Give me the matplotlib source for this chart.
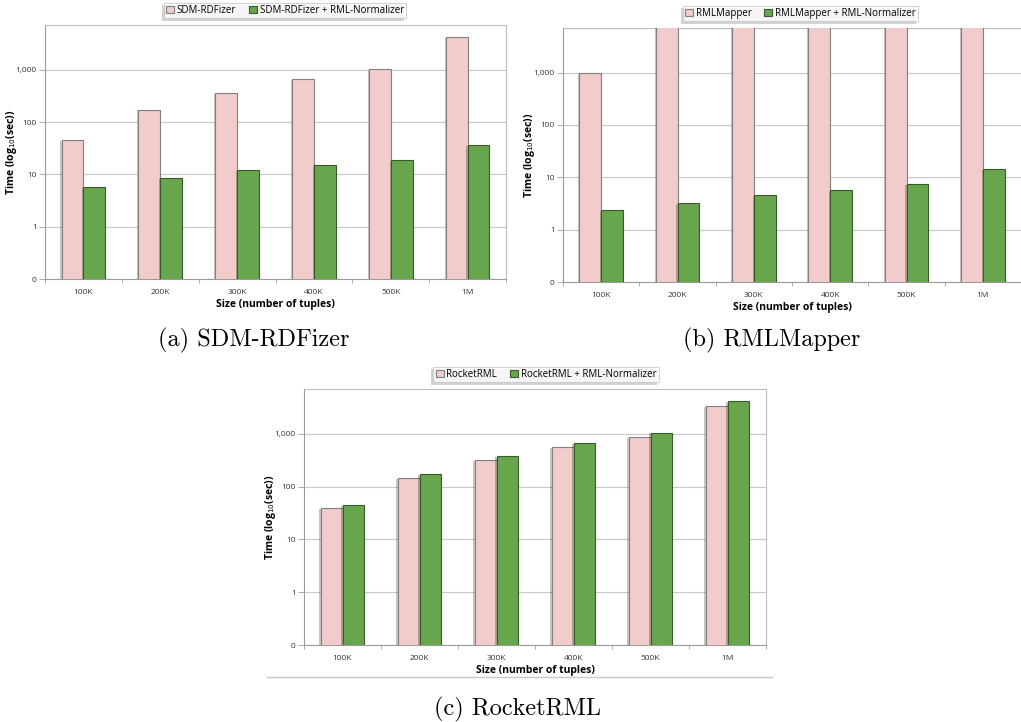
import matplotlib.pyplot as plt
import matplotlib.patheffects as pe
from matplotlib.lines import Line2D
from matplotlib.ticker import FixedLocator, NullFormatter

W, H = 1021, 722

sizes = ["100K", "200K", "300K", "400K", "500K", "1M"]

# (a) SDM-RDFizer
sdm = [46, 175, 358, 664, 1030, 4220]
sdm_norm = [5.7, 8.5, 12.1, 15.5, 18.8, 36.8]

# (b) RMLMapper (timeouts hit the top of the axis)
rmlmapper = [990, 10000, 10000, 10000, 10000, 10000]
rmlmapper_norm = [2.35, 3.2, 4.5, 5.6, 7.4, 14.2]

# (c) RocketRML
rocket = [39, 147, 326, 566, 877, 3440]
rocket_norm = [45, 172, 382, 676, 1060, 4220]

yticks = [0.1, 1, 10, 100, 1000]
ytick_labels = ["0", "1", "10", "100", "1,000"]

pink = "#F2CBCB"
green = "#67A64D"
font = "Open Sans"


def rect(l, t, r, b):
    return [l / W, 1 - b / H, (r - l) / W, (b - t) / H]


def draw_chart(fig, box, base, norm, names, leg_box, caption, cap_xy, ymax):
    ax = fig.add_axes(rect(*box))
    x = list(range(len(sizes)))
    w = 0.285
    shadow = [pe.SimplePatchShadow(offset=(-0.8, -0.6), alpha=0.3), pe.Normal()]
    b1 = ax.bar([i - w / 2 for i in x], base, w, color=pink, edgecolor="#808080",
                linewidth=0.8, label=names[0], zorder=3)
    b2 = ax.bar([i + w / 2 for i in x], norm, w, color=green, edgecolor="#3A5A2C",
                linewidth=0.8, label=names[1], zorder=3)
    for p in list(b1) + list(b2):
        p.set_path_effects(shadow)
    ax.set_yscale("log")
    ax.set_ylim(0.1, ymax)
    ax.set_xlim(-0.5, len(sizes) - 0.5)
    ax.yaxis.set_major_locator(FixedLocator(yticks))
    ax.yaxis.set_minor_locator(FixedLocator([]))
    ax.set_yticklabels(ytick_labels, fontsize=6, family=font, color="#333333")
    ax.yaxis.set_minor_formatter(NullFormatter())
    ax.grid(axis="y", color="#C8C8C8", linewidth=0.8, zorder=0)
    ax.set_xticks(x)
    ax.set_xticklabels(sizes, fontsize=6, family=font, color="#333333")
    ax.set_xticks([i - 0.5 for i in range(len(sizes) + 1)], minor=True)
    ax.tick_params(axis="x", which="major", length=0, pad=7)
    ax.tick_params(axis="x", which="minor", length=3, color="#A0A0A0", width=0.6)
    ax.tick_params(axis="y", which="major", length=4, color="#A0A0A0", width=0.6, pad=2)
    for s in ax.spines.values():
        s.set_color("#BDBDBD")
        s.set_linewidth(0.8)
    ax.spines["left"].set_color("#9A9A9A")
    ax.spines["bottom"].set_color("#9A9A9A")
    ax.set_ylabel("Time (log$_{10}$(sec))", fontsize=7.5, fontweight="bold", family=font)
    ax.yaxis.set_label_coords(-0.056, 0.5)
    ax.set_xlabel("Size (number of tuples)", fontsize=7.5, fontweight="bold",
                  family=font, labelpad=2)

    leg = fig.legend(handles=[b1, b2], loc="center",
                     bbox_to_anchor=((leg_box[0] + leg_box[2]) / 2 / W,
                                     1 - (leg_box[1] + leg_box[3]) / 2 / H),
                     ncol=2, frameon=True, fancybox=False,
                     prop={"family": font, "size": 7},
                     handlelength=0.8, handleheight=0.8, handletextpad=0.3,
                     columnspacing=1.3, borderpad=0.25, edgecolor="#C8C8C8")
    leg.get_frame().set_linewidth(0.8)
    leg.get_frame().set_path_effects([pe.SimplePatchShadow(offset=(-1.5, -1.5), alpha=0.25),
                                      pe.Normal()])
    for h in leg.legend_handles:
        h.set_path_effects([])

    fig.text(cap_xy[0] / W, 1 - cap_xy[1] / H, caption, fontsize=17.5,
             family="cmr10", ha="center", va="center")
    return ax


fig = plt.figure(figsize=(W / 100, H / 100), dpi=100)

draw_chart(fig, (45, 25, 506, 279), sdm, sdm_norm,
           ["SDM-RDFizer", "SDM-RDFizer + RML-Normalizer"],
           (170, 4, 400, 17), "(a) SDM-RDFizer", (254, 340), 10 ** 3.86)

axb = draw_chart(fig, (563, 28, 1021, 282), rmlmapper, rmlmapper_norm,
                 ["RMLMapper", "RMLMapper + RML-Normalizer"],
                 (688, 7, 913, 20), "(b) RMLMapper", (772, 340), 10 ** 3.85)
axb.spines["right"].set_visible(False)

draw_chart(fig, (304, 389, 766, 645), rocket, rocket_norm,
           ["RocketRML", "RocketRML + RML-Normalizer"],
           (430, 368, 662, 381), "(c) RocketRML", (518, 709), 10 ** 3.853)

fig.add_artist(Line2D([267 / W, 772 / W], [1 - 677 / H, 1 - 677 / H],
                      color="#C8C8C8", linewidth=1.0))

fig.savefig("out.png", dpi=100)
